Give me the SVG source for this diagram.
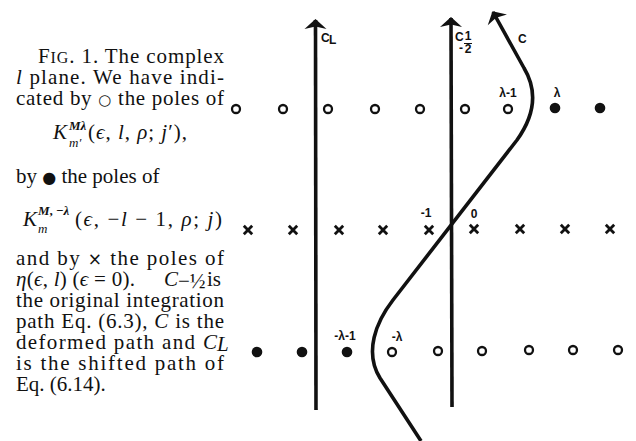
<svg xmlns="http://www.w3.org/2000/svg" xmlns:xlink="http://www.w3.org/1999/xlink" width="636" height="441" viewBox="0 0 636 441">
<style>
.cap{font-family:"Liberation Serif","DejaVu Serif",serif;font-size:21px;fill:#111}
.it{font-style:italic}
.sm{font-size:13px}
.sym{font-family:"DejaVu Sans",sans-serif}
.lab{font-family:"Liberation Sans","DejaVu Sans",sans-serif;font-size:12px;font-weight:bold;fill:#111}
.open{fill:none;stroke:#111;stroke-width:2.3}
.dot{fill:#111}
.xm{fill:none;stroke:#111;stroke-width:2.8}
.ct{fill:none;stroke:#111;stroke-width:3.6;stroke-linejoin:round}
</style>
<defs>
<marker id="ah" markerUnits="userSpaceOnUse" markerWidth="30" markerHeight="30" refX="0" refY="0" viewBox="-15 -15 30 30" orient="auto">
<path d="M 1 0 L -9 -11 L -6.5 0 L -9 11 Z" fill="#111"/>
</marker>
<circle id="oc" r="4" class="open"/>
<circle id="fc" r="5.3" class="dot"/>
<path id="xx" d="M -4.2 -4.2 L 4.2 4.2 M 4.2 -4.2 L -4.2 4.2" class="xm"/>
</defs>

<g id="caption">
<text class="cap" x="38" y="63" textLength="186" lengthAdjust="spacing">F<tspan font-size="16">IG</tspan>. 1. The complex</text>
<text class="cap" x="16" y="84" textLength="208" lengthAdjust="spacing"><tspan class="it">l</tspan> plane. We have indi-</text>
<text class="cap" x="16" y="105" textLength="208" lengthAdjust="spacing">cated by <tspan class="sym" font-size="15">○</tspan> the poles of</text>
<text class="cap it" x="53" y="139" font-size="22">K</text>
<text class="cap it sm" x="69" y="130" font-weight="bold">Mλ</text>
<text class="cap it sm" x="69" y="147">m′</text>
<text class="cap" x="88" y="139" textLength="99" lengthAdjust="spacing">(<tspan class="it">ϵ</tspan>, <tspan class="it">l</tspan>, <tspan class="it">ρ</tspan>; <tspan class="it">j</tspan>′),</text>
<text class="cap" x="16" y="183">by <tspan class="sym" font-size="16">●</tspan> the poles of</text>
<text class="cap it" x="23" y="226" font-size="22">K</text>
<text class="cap it sm" x="38" y="215" font-weight="bold">M<tspan font-style="normal">, −</tspan>λ</text>
<text class="cap it sm" x="38" y="233">m</text>
<text class="cap" x="75" y="226" textLength="147" lengthAdjust="spacing">(<tspan class="it">ϵ</tspan>, −<tspan class="it">l</tspan> − 1, <tspan class="it">ρ</tspan>; <tspan class="it">j</tspan>)</text>
<text class="cap" x="16" y="265" textLength="208" lengthAdjust="spacing">and by <tspan class="sym" font-size="17">×</tspan> the poles of</text>
<text class="cap" x="16" y="286" textLength="119" lengthAdjust="spacing"><tspan class="it">η</tspan>(<tspan class="it">ϵ</tspan>, <tspan class="it">l</tspan>) (<tspan class="it">ϵ</tspan> = 0).</text>
<text class="cap it" x="164" y="286">C</text>
<text class="cap" x="178" y="288" font-size="10">−½</text>
<text class="cap" x="207" y="286">is</text>
<text class="cap" x="16" y="307" textLength="208" lengthAdjust="spacing">the original integration</text>
<text class="cap" x="16" y="328" textLength="208" lengthAdjust="spacing">path Eq. (6.3), <tspan class="it">C</tspan> is the</text>
<text class="cap" x="16" y="349" textLength="201" lengthAdjust="spacing">deformed path and <tspan class="it">C</tspan></text>
<text class="cap it" x="217" y="351" font-size="11">L</text>
<text class="cap" x="16" y="370" textLength="208" lengthAdjust="spacing">is the shifted path of</text>
<text class="cap" x="16" y="391">Eq. (6.14).</text>
</g>

<g id="poles-top">
<use xlink:href="#oc" x="236" y="109"/>
<use xlink:href="#oc" x="283" y="109"/>
<use xlink:href="#oc" x="328" y="109"/>
<use xlink:href="#oc" x="375" y="109"/>
<use xlink:href="#oc" x="420" y="109"/>
<use xlink:href="#oc" x="465" y="109"/>
<use xlink:href="#oc" x="508" y="109"/>
<use xlink:href="#fc" x="555" y="108"/>
<use xlink:href="#fc" x="600" y="108"/>
</g>
<g id="poles-middle">
<use xlink:href="#xx" x="248" y="230"/>
<use xlink:href="#xx" x="293" y="230"/>
<use xlink:href="#xx" x="339" y="230"/>
<use xlink:href="#xx" x="383" y="230"/>
<use xlink:href="#xx" x="429" y="230"/>
<use xlink:href="#xx" x="474" y="229"/>
<use xlink:href="#xx" x="520" y="229"/>
<use xlink:href="#xx" x="565" y="229"/>
<use xlink:href="#xx" x="610" y="229"/>
</g>
<g id="poles-bottom">
<use xlink:href="#fc" x="257" y="352"/>
<use xlink:href="#fc" x="302" y="352"/>
<use xlink:href="#fc" x="347" y="352"/>
<use xlink:href="#oc" x="392" y="352"/>
<use xlink:href="#oc" x="438" y="351"/>
<use xlink:href="#oc" x="482" y="351"/>
<use xlink:href="#oc" x="529" y="350"/>
<use xlink:href="#oc" x="573" y="350"/>
<use xlink:href="#oc" x="618" y="350"/>
</g>

<g id="connectors">
<path id="CL" class="ct" d="M 316 410 L 315.5 20" marker-end="url(#ah)"/>
<path id="Chalf" class="ct" d="M 452 407 L 451 18" marker-end="url(#ah)"/>
<path id="C" class="ct" d="M 421 441 L 380 378 C 364 352, 376 322, 393 300 L 517 140 C 537 112, 536 88, 524 68 L 493 12" marker-end="url(#ah)"/>
</g>

<g id="labels">
<text class="lab" x="321" y="42">C</text>
<text class="lab" x="329" y="44" font-size="8">L</text>
<text class="lab" x="455" y="41">C</text>
<text class="lab" x="468" y="40" font-size="8" text-anchor="middle">1</text>
<line x1="464" y1="43.5" x2="472" y2="43.5" stroke="#111" stroke-width="1"/>
<text class="lab" x="461" y="52" font-size="8" text-anchor="middle">-</text>
<text class="lab" x="468" y="53" font-size="8" text-anchor="middle">2</text>
<text class="lab" x="518" y="43">C</text>
<text class="lab" x="508" y="97" text-anchor="middle">λ-1</text>
<text class="lab" x="557" y="97" text-anchor="middle">λ</text>
<text class="lab" x="426" y="217" text-anchor="middle">-1</text>
<text class="lab" x="474" y="218" text-anchor="middle">0</text>
<text class="lab" x="345" y="340" text-anchor="middle">-λ-1</text>
<text class="lab" x="397" y="341" text-anchor="middle">-λ</text>
</g>
</svg>
